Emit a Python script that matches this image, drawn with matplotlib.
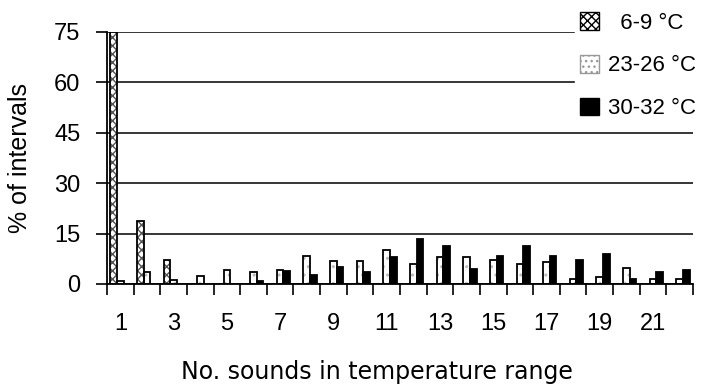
import numpy as np
import matplotlib
matplotlib.use('Agg')
import matplotlib.pyplot as plt
from matplotlib.patches import Patch

plt.rcParams['font.family'] = ['Liberation Sans', 'DejaVu Sans']

# No. sounds in temperature range (1..22)
n_sounds = list(range(1, 23))
cold = [75, 18.7, 7.0, 0, 0, 0, 0, 0, 0, 0, 0,
        0, 0, 0, 0, 0, 0, 0, 0, 0, 0, 0]                 # 6-9 °C
mid = [0.8, 3.6, 1.3, 2.5, 4.3, 3.6, 4.3, 8.2, 6.8, 6.8, 10.0,
       6.1, 7.9, 7.9, 7.2, 6.0, 6.6, 1.5, 2.1, 4.8, 1.5, 1.5]  # 23-26 °C
warm = [0, 0, 0, 0, 0, 0.8, 3.8, 2.7, 5.0, 3.5, 8.0,
        13.5, 11.2, 4.5, 8.3, 11.2, 8.3, 7.0, 8.8, 1.5, 3.7, 4.3]  # 30-32 °C
labels = ['  6-9 °C', '23-26 °C', '30-32 °C']

fig = plt.figure(figsize=(7.15, 3.88), dpi=100)
ax = fig.add_axes([107/715, 1 - 284/388, 586/715, 252/388])

x = np.arange(len(n_sounds))
w = 0.25

# hatched fills first (no edge), then black outlines on top
ax.bar(x - w, cold, w, color='white', edgecolor='#555555', hatch='xxxx', lw=0, zorder=2)
ax.bar(x, mid, w, color='white', edgecolor='#bbbbbb', hatch='..', lw=0, zorder=2)
ax.bar(x + w, warm, w, color='black', lw=0, zorder=2)
for off, vals in [(-w, cold), (0, mid), (w, warm)]:
    v = np.array(vals)
    keep = v > 0
    ax.bar(x[keep] + off, v[keep], w, fill=False, edgecolor='black', lw=1.3, zorder=3)

ax.set_xlim(-0.5, len(n_sounds) - 0.5)
ax.set_ylim(0, 75)
ax.set_yticks([0, 15, 30, 45, 60, 75])
ax.yaxis.grid(True, color='black', lw=1.1, zorder=0)
ax.set_axisbelow(True)

# tick marks between categories, labels on odd categories
ax.set_xticks(np.arange(len(n_sounds) + 1) - 0.5)
ax.set_xticklabels([])
ax.set_xticks(x[::2], minor=True)
ax.set_xticklabels([str(n) for n in n_sounds[::2]], minor=True, fontsize=17)
ax.tick_params(axis='x', which='major', length=8, width=1.2, direction='out')
ax.tick_params(axis='x', which='minor', length=0, pad=21)
ax.tick_params(axis='y', length=8, width=1.2, pad=11, labelsize=17)

for s in ['top', 'right']:
    ax.spines[s].set_visible(False)
ax.spines['left'].set_linewidth(1.3)
ax.spines['bottom'].set_linewidth(1.3)

ax.set_ylabel('% of intervals', fontsize=18)
ax.yaxis.set_label_coords(-0.128, 0.5)
ax.set_xlabel('No. sounds in temperature range', fontsize=17, family='DejaVu Sans')
ax.xaxis.set_label_coords(0.46, -0.30)

handles = [Patch(facecolor='white', edgecolor='black', hatch='xxxx'),
           Patch(facecolor='white', edgecolor='#999999', hatch='...'),
           Patch(facecolor='black', edgecolor='black')]
leg = fig.legend(handles, labels, loc='upper left', bbox_to_anchor=(568/715, 1.0),
                 fontsize=16, frameon=True, fancybox=False, framealpha=1,
                 handlelength=0.85, handleheight=0.85, handletextpad=0.4,
                 labelspacing=0.95, borderpad=0.25, borderaxespad=0.3)
leg.get_frame().set_edgecolor('white')
leg.set_zorder(10)

fig.savefig('out.png', dpi=100)
